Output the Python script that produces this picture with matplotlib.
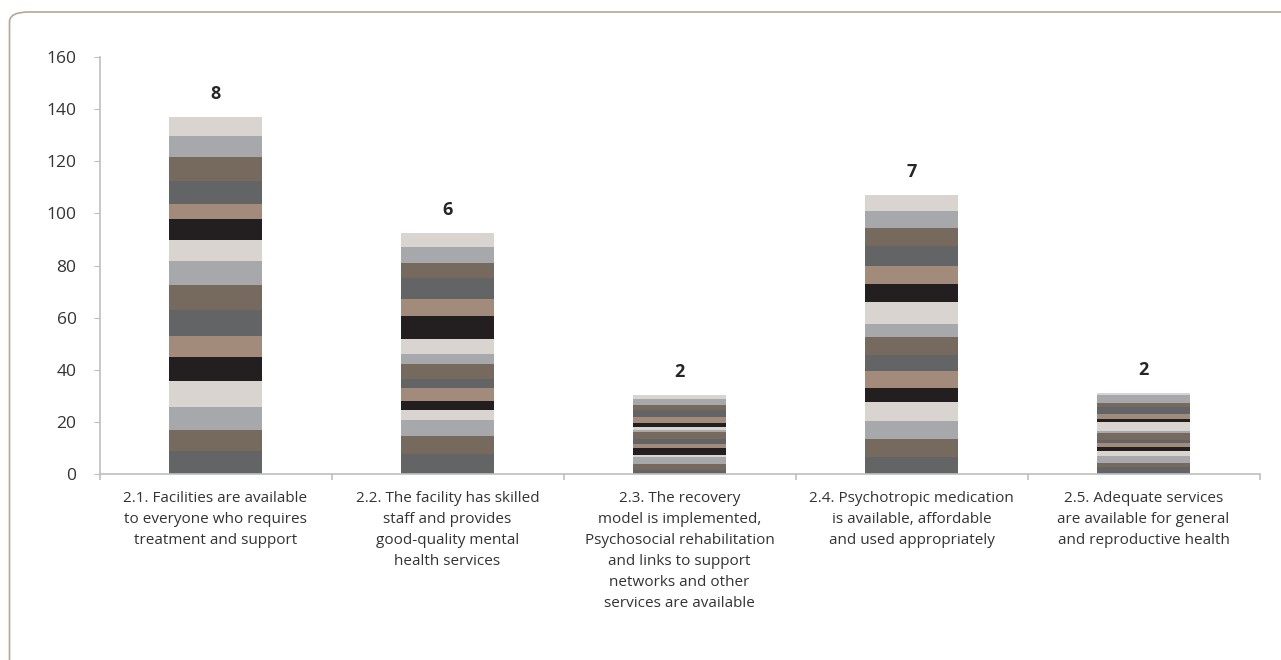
import matplotlib
matplotlib.use("Agg")
import matplotlib.pyplot as plt
from matplotlib.patches import FancyBboxPatch
import numpy as np

plt.rcParams['font.family'] = ['Open Sans', 'DejaVu Sans']

categories = [
    "2.1. Facilities are available\nto everyone who requires\ntreatment and support",
    "2.2. The facility has skilled\nstaff and provides\ngood-quality mental\nhealth services",
    "2.3. The recovery\nmodel is implemented,\nPsychosocial rehabilitation\nand links to support\nnetworks and other\nservices are available",
    "2.4. Psychotropic medication\nis available, affordable\nand used appropriately",
    "2.5. Adequate services\nare available for general\nand reproductive health",
]
top_labels = ["8", "6", "2", "7", "2"]

# 16 stacked series (bottom to top), one value per category
s01 = [8.8, 7.7, 1.5, 6.5, 2.6]
s02 = [8.1, 6.9, 2.3, 6.9, 1.7]
s03 = [8.8, 6.1, 2.6, 6.9, 2.6]
s04 = [10.0, 3.8, 1.0, 7.3, 1.9]
s05 = [9.2, 3.5, 2.6, 5.4, 1.4]
s06 = [8.0, 5.1, 1.5, 6.5, 1.6]
s07 = [10.0, 3.3, 1.8, 6.0, 1.2]
s08 = [9.6, 5.8, 2.7, 7.1, 2.8]
s09 = [9.2, 3.8, 0.9, 4.9, 0.8]
s10 = [8.1, 5.9, 1.2, 8.5, 3.5]
s11 = [8.0, 8.7, 1.6, 6.9, 1.1]
s12 = [5.8, 6.5, 2.3, 6.9, 1.8]
s13 = [8.7, 8.0, 2.5, 7.8, 2.6]
s14 = [9.3, 5.8, 2.0, 6.8, 1.7]
s15 = [8.2, 6.2, 2.3, 6.5, 3.0]
s16 = [7.1, 5.3, 1.5, 6.1, 0.9]
series = [s01, s02, s03, s04, s05, s06, s07, s08,
          s09, s10, s11, s12, s13, s14, s15, s16]

palette = ["#636466", "#76695d", "#a7a8ac", "#d9d4d0", "#231f20", "#a38b7c"]

W, H = 1281, 660
fig = plt.figure(figsize=(W / 100, H / 100), dpi=100)

# outer rounded frame
frame = FancyBboxPatch((9.5 / W, -0.05), 1.2, (H - 12) / H + 0.05,
                       boxstyle="round,pad=0,rounding_size=0.015",
                       transform=fig.transFigure, facecolor="none",
                       edgecolor="#b8a696", linewidth=1.2, clip_on=False)
fig.patches.append(frame)

ax = fig.add_axes([99.5 / W, (H - 474) / H, (1259.5 - 99.5) / W, (474 - 57) / H])

x = np.arange(len(categories))
bottom = np.zeros(len(categories))
for i, s in enumerate(series):
    vals = np.array(s)
    ax.bar(x, vals, width=0.4, bottom=bottom, color=palette[i % 6],
           linewidth=0, zorder=2)
    bottom += vals

for xi, tot, lab in zip(x, bottom, top_labels):
    ax.annotate(lab, (xi, tot), xytext=(0, 10), textcoords="offset points",
                ha="center", va="bottom", fontsize=13, fontweight="bold",
                color="#262626")

ax.set_xlim(-0.5, len(categories) - 0.5)
ax.set_ylim(0, 160)
ax.set_yticks(np.arange(0, 161, 20))
ax.set_xticks(x)
ax.set_xticklabels(categories, fontsize=11, color="#333333", linespacing=1.55)
ax.set_xticks(np.arange(-0.5, len(categories), 1.0), minor=True)

for side in ["top", "right"]:
    ax.spines[side].set_visible(False)
for side in ["left", "bottom"]:
    ax.spines[side].set_color("#bfbfbf")
    ax.spines[side].set_linewidth(1.2)

ax.tick_params(axis="y", length=4.5, color="#bfbfbf", labelsize=12.5,
               labelcolor="#333333", pad=12)
ax.tick_params(axis="x", which="major", length=0, pad=12)
ax.tick_params(axis="x", which="minor", length=4.5, color="#bfbfbf", width=1.2)

fig.savefig("out.png", dpi=100)
